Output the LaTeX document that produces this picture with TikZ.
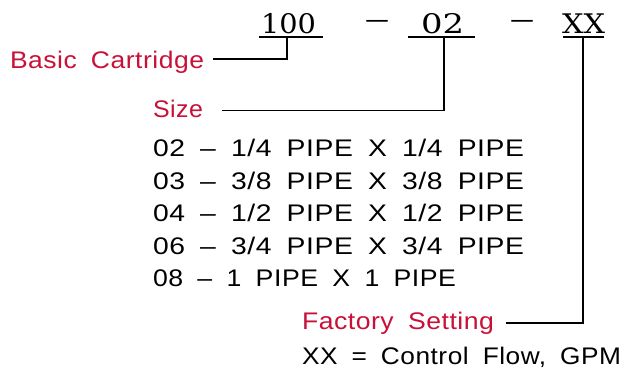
\documentclass[tikz,border=0pt]{standalone}
\usepackage{fontspec}
\usepackage{graphicx}
\newfontfamily\cadfont[WordSpace=1.8,LetterSpace=2]{Liberation Sans}
\newfontfamily\codefont{DejaVu Serif}
\definecolor{labelred}{RGB}{200,16,56}
\begin{document}
\begin{tikzpicture}[x=1pt,y=1pt,
  txt/.style={anchor=base west,inner sep=0pt,outer sep=0pt,font=\fontsize{24}{24}\cadfont},
  redtxt/.style={txt,text=labelred},
  code/.style={anchor=base west,inner sep=0pt,outer sep=0pt,font=\fontsize{27}{27}\codefont},
  dashmark/.style={inner sep=0pt,outer sep=0pt,font=\fontsize{27}{27}\codefont},
  wire/.style={line width=1.5pt,black}]
\useasboundingbox (0,0) rectangle (623,371);
% top code
\node[code] (c100) at (261,337) {\resizebox{55pt}{\height}{100}};
\node[dashmark] (d1) at (377,347) {\resizebox{26pt}{\height}{–}};
\node[code] (c02) at (421,337) {\resizebox{43pt}{\height}{02}};
\node[dashmark] (d2) at (522,347) {\resizebox{26pt}{\height}{–}};
\node[code] (cxx) at (562,337) {\resizebox{43pt}{\height}{XX}};
% underlines
\coordinate (u1a) at (259,334); \coordinate (u1b) at (323,334); \coordinate (s1) at (287,334);
\coordinate (u2a) at (408,334); \coordinate (u2b) at (475,334); \coordinate (s2) at (444,334);
\coordinate (u3a) at (563,334); \coordinate (u3b) at (604,334); \coordinate (s3) at (583,334);
\draw[wire] (u1a) -- (u1b);
\draw[wire] (u2a) -- (u2b);
\draw[wire] (u3a) -- (u3b);
% labels
\node[redtxt] (bc) at (10,302) {\resizebox{194pt}{\height}{Basic Cartridge}};
\node[redtxt] (sz) at (153,253) {\resizebox{50pt}{\height}{Size}};
\node[redtxt] (fs) at (302,41) {\resizebox{192pt}{\height}{Factory Setting}};
\node[txt] (l1) at (153,214) {\resizebox{371pt}{\height}{02 – 1/4 PIPE X 1/4 PIPE}};
\node[txt] (l2) at (153,181.5) {\resizebox{371pt}{\height}{03 – 3/8 PIPE X 3/8 PIPE}};
\node[txt] (l3) at (153,149) {\resizebox{371pt}{\height}{04 – 1/2 PIPE X 1/2 PIPE}};
\node[txt] (l4) at (153,116.5) {\resizebox{371pt}{\height}{06 – 3/4 PIPE X 3/4 PIPE}};
\node[txt] (l5) at (153,84) {\resizebox{303pt}{\height}{08 – 1 PIPE X 1 PIPE}};
\node[txt] (xx) at (302,6) {\resizebox{319pt}{\height}{XX = Control Flow, GPM}};
% connectors
\coordinate (bcend) at (213,312);
\coordinate (szend) at (222,260.3);
\coordinate (fsend) at (506,48);
\draw[wire] (bcend) -| (s1);
\draw[wire] (szend) -| (s2);
\draw[wire] (fsend) -| (s3);
\end{tikzpicture}
\end{document}
